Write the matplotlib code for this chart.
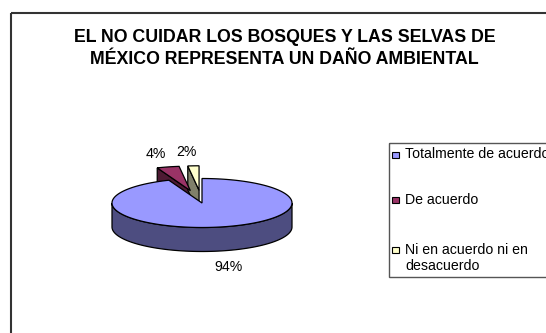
import numpy as np
import matplotlib.pyplot as plt
from matplotlib.patches import Polygon, Rectangle

plt.rcParams['font.family'] = ['Liberation Sans', 'DejaVu Sans']

# Survey answers and their share (%)
categories = ['Totalmente de acuerdo', 'De acuerdo', 'Ni en acuerdo ni en\ndesacuerdo']
values = [94, 4, 2]
explode = [0.0, 0.52, 0.52]
top_colors = ['#9999FF', '#993366', '#FFFFCC']
side_colors = ['#4D4D80', '#4D1A33', '#80806A']
title = 'EL NO CUIDAR LOS BOSQUES Y LAS SELVAS DE\nMÉXICO REPRESENTA UN DAÑO AMBIENTAL'

fig = plt.figure(figsize=(5.46, 3.33), dpi=100)
ax = fig.add_axes([0, 0, 1, 1])
ax.set_xlim(0, 546)
ax.set_ylim(333, 0)
ax.axis('off')

# pie geometry (pixel units, y downwards)
cx, cy, rx, ry, depth = 202, 203, 90, 24.5, 24


def pt(theta, dx=0, dy=0, k=1.0):
    t = np.radians(theta)
    return cx + dx + k * rx * np.sin(t), cy + dy - k * ry * np.cos(t)


fracs = np.array(values) / sum(values)
edges = np.concatenate([[0], np.cumsum(fracs) * 360])


def draw_slice(i, zorder):
    a0, a1 = edges[i], edges[i + 1]
    b = (a0 + a1) / 2
    dx = explode[i] * rx * np.sin(np.radians(b))
    dy = -explode[i] * ry * np.cos(np.radians(b))
    c = (cx + dx, cy + dy)
    # front outer wall
    lo, hi = max(a0, 90), min(a1, 270)
    if lo < hi:
        th = np.linspace(lo, hi, 80)
        top = [pt(t, dx, dy) for t in th]
        bot = [(x, y + depth) for x, y in top[::-1]]
        ax.add_patch(Polygon(top + bot, closed=True, fc=side_colors[i],
                             ec='black', lw=0.9, zorder=zorder))
    # radial face at the start angle, seen when it turns towards the front
    if np.cos(np.radians(a0 - 90)) < 0 and explode[i] > 0:
        p = pt(a0, dx, dy)
        face = [c, p, (p[0], p[1] + depth), (c[0], c[1] + depth)]
        ax.add_patch(Polygon(face, closed=True, fc=side_colors[i],
                             ec='black', lw=0.9, zorder=zorder))
    # top surface
    th = np.linspace(a0, a1, max(int(a1 - a0), 4))
    poly = [c] + [pt(t, dx, dy) for t in th]
    ax.add_patch(Polygon(poly, closed=True, fc=top_colors[i],
                         ec='black', lw=0.9, zorder=zorder + 0.5))
    # percentage label
    k = 1.55
    lx, ly = pt(b, dx, dy, k)
    if np.cos(np.radians(b)) < 0:
        ly += depth + 3
    elif i == 2:
        lx -= 4
    ax.text(lx, ly, f'{values[i]}%', fontsize=10.2, ha='center', va='center',
            zorder=10)


# back slices first, big front slice last
for i in [1, 2]:
    draw_slice(i, 2)
draw_slice(0, 4)

# chart border
ax.add_patch(Rectangle((11, 13), 600, 400, fill=False, ec='#333333', lw=1.5,
                       zorder=1))

ax.text(284.5, 48.5, title, fontsize=12.8, fontweight='bold', ha='center',
        va='center', linespacing=1.35)

# legend
ax.add_patch(Rectangle((389, 143), 300, 134, fill=False, ec='#555555', lw=1.0,
                       zorder=1))
leg_y = [155, 200, 250]
for lab, col, y in zip(categories, top_colors, leg_y):
    ax.add_patch(Rectangle((392, y - 3.5), 6.5, 6.5, fc=col, ec='black', lw=0.8,
                           zorder=5))
    ax.text(405, y - 7.5, lab, fontsize=10.2, ha='left', va='top',
            linespacing=1.25, zorder=5)

fig.savefig('out.png', dpi=100, facecolor='white')
